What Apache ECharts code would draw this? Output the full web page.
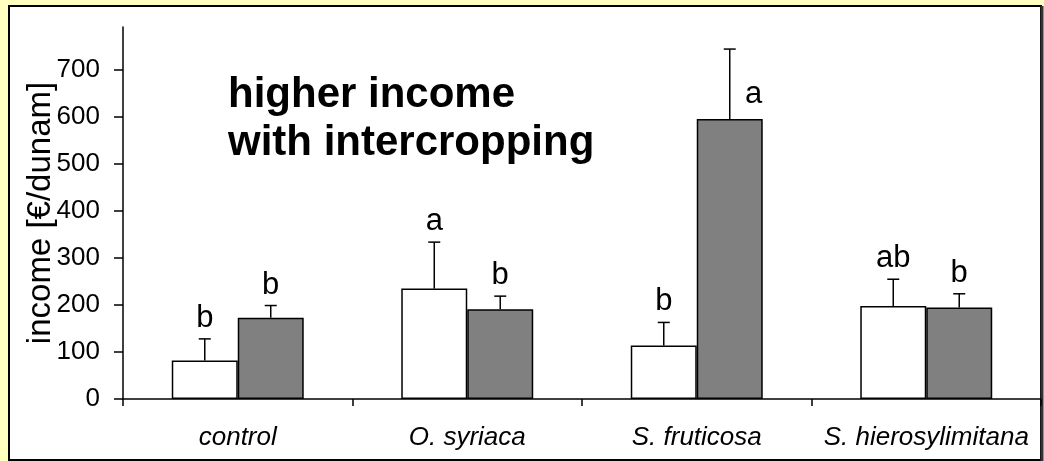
<!DOCTYPE html>
<html>
<head>
<meta charset="utf-8">
<script src="https://cdn.jsdelivr.net/npm/echarts@6/dist/echarts.min.js"></script>
<style>
html,body{margin:0;padding:0;background:#FFFFC0;}
#chart{width:1044px;height:461px;}
</style>
</head>
<body>
<div id="chart"></div>
<script>
// ---- data ----
const categories = ['control', 'O. syriaca', 'S. fruticosa', 'S. hierosylimitana'];
const monoValues = [82, 235, 114, 198];
const monoErrors = [46, 99, 49, 57];
const interValues = [173, 191, 596, 195];
const interErrors = [26, 28, 149, 29];
const monoLetters = ['b', 'a', 'b', 'ab'];
const interLetters = ['b', 'b', 'a', 'b'];
const yTicks = [0, 100, 200, 300, 400, 500, 600, 700];
const yMax = 792;
const titleLines = ['higher income', 'with intercropping'];
const yName = 'income [€/dunam]';

const FONT = "'Liberation Sans', Arial, sans-serif";
const barCatGap = 0.425;

function errorSeries(values, errors, letters, side, special) {
  return {
    type: 'custom',
    silent: true,
    z: 5,
    data: values.map((v, i) => [i, v, v + errors[i], letters[i]]),
    renderItem: function (params, api) {
      const i = api.value(0);
      const band = api.size([1, 0])[0];
      const barW = band * (1 - barCatGap) / 2;
      const c = api.coord([i, api.value(1)]);
      const t = api.coord([i, api.value(2)]);
      const x = c[0] + side * barW / 2;
      const sp = special && special[i];
      const children = [
        { type: 'line', shape: { x1: x, y1: c[1], x2: x, y2: t[1] }, style: { stroke: '#000', lineWidth: 1.5 } },
        { type: 'line', shape: { x1: x - 6, y1: t[1], x2: x + 6, y2: t[1] }, style: { stroke: '#000', lineWidth: 1.5 } },
        {
          type: 'text',
          x: sp ? x + sp[0] : x,
          y: sp ? api.coord([i, sp[1]])[1] : t[1] - 5,
          style: {
            text: api.value(3),
            font: '31px ' + FONT,
            fill: '#000',
            align: 'center',
            verticalAlign: 'bottom'
          }
        }
      ];
      return { type: 'group', children: children };
    }
  };
}

const chart = echarts.init(document.getElementById('chart'), null, { renderer: 'canvas' });
chart.setOption({
  backgroundColor: '#FFFFC0',
  animation: false,
  graphic: [
    { type: 'rect', z: -10, shape: { x: 9, y: 6, width: 1032, height: 454 },
      style: { fill: '#fff', stroke: '#000', lineWidth: 2 } },
    { type: 'line', z: -9, shape: { x1: 1042, y1: 6, x2: 1042, y2: 461 },
      style: { stroke: '#333', lineWidth: 3 } },
    { type: 'text', left: 228, top: 71, z: 10,
      style: { text: titleLines.join('\n'), font: 'bold 42px ' + FONT, fill: '#000', lineHeight: 48 } }
  ],
  grid: { left: 123, right: 3, top: 27, bottom: 62, containLabel: false },
  xAxis: {
    type: 'category',
    data: categories,
    axisLine: { lineStyle: { color: '#000', width: 1.5 } },
    axisTick: { show: true, interval: 0, length: 7, lineStyle: { color: '#000', width: 1.5 } },
    axisLabel: { interval: 0, hideOverlap: false, color: '#000', fontFamily: FONT, fontSize: 26, fontStyle: 'italic', margin: 26 }
  },
  yAxis: {
    type: 'value',
    min: 0,
    max: yMax,
    name: yName,
    nameLocation: 'middle',
    nameGap: 66,
    nameMoveOverlap: false,
    nameTextStyle: { color: '#000', fontFamily: FONT, fontSize: 33 },
    axisLine: { show: true, lineStyle: { color: '#000', width: 1.5 } },
    axisTick: { show: true, length: 9, customValues: yTicks, lineStyle: { color: '#000', width: 1.5 } },
    axisLabel: { color: '#000', fontFamily: FONT, fontSize: 26, margin: 23, customValues: yTicks },
    splitLine: { show: false }
  },
  series: [
    { type: 'bar', name: 'monoculture', data: monoValues, barGap: '0%', barCategoryGap: (barCatGap * 100) + '%',
      itemStyle: { color: '#fff', borderColor: '#000', borderWidth: 1.5 } },
    { type: 'bar', name: 'intercropping', data: interValues,
      itemStyle: { color: '#808080', borderColor: '#000', borderWidth: 1.5 } },
    errorSeries(monoValues, monoErrors, monoLetters, -1, null),
    errorSeries(interValues, interErrors, interLetters, 1, { 2: [24, 615] })
  ]
});
</script>
</body>
</html>
